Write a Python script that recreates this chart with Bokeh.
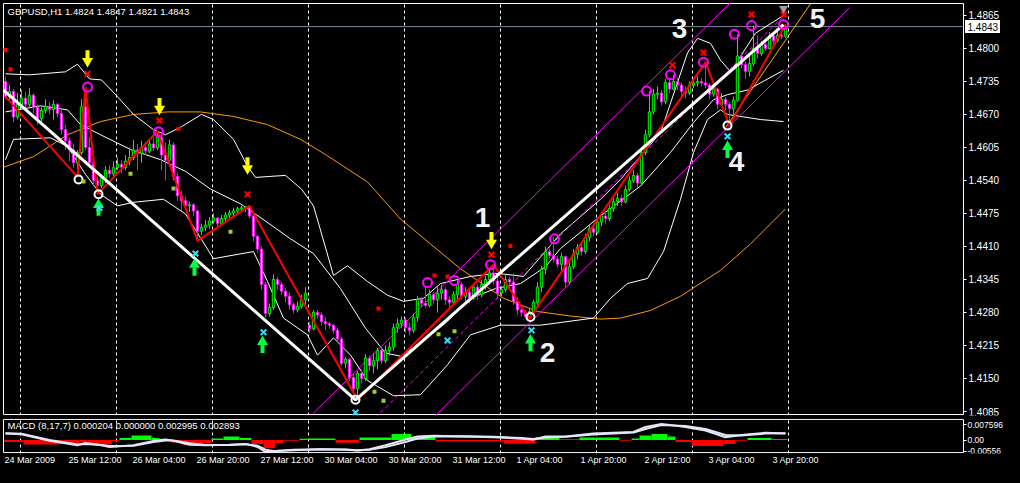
import numpy as np
from bokeh.plotting import figure
from bokeh.layouts import column
from bokeh.models import (Range1d, LinearAxis, FixedTicker, Grid, PrintfTickFormatter)
from bokeh.core.properties import value
from bokeh.embed import file_html
from bokeh.resources import INLINE

# ---------------- DATA (prices in pips above 1.4000) ----------------
bar_open = [
    735, 705, 715, 665, 690, 702, 690, 708, 684, 662,
    678, 686, 680, 690, 672, 640, 618, 600, 575, 595,
    685, 605, 575, 540, 530, 545, 560, 553, 565, 572,
    566, 578, 585, 600, 593, 605, 598, 612, 604, 625,
    590, 580, 610, 548, 510, 500, 490, 492, 480, 440,
    448, 452, 460, 466, 455, 465, 472, 476, 480, 484,
    486, 488, 470, 430, 405, 335, 278, 290, 345, 335,
    322, 312, 295, 285, 292, 305, 255, 248, 280, 275,
    262, 258, 255, 245, 228, 180, 188, 152, 130, 160,
    150, 190, 175, 185, 205, 185, 205, 212, 250, 258,
    265, 250, 245, 270, 305, 298, 294, 315, 305, 318,
    325, 305, 300, 315, 335, 312, 320, 308, 330, 315,
    335, 345, 358, 342, 318, 325, 345, 340, 302, 285,
    280, 272, 282, 300, 330, 365, 400, 392, 385, 375,
    390, 340, 370, 395, 408, 400, 428, 445, 438, 458,
    470, 465, 485, 498, 505, 498, 522, 540, 550, 535,
    595, 630, 675, 710, 712, 695, 733, 720, 735, 728,
    715, 712, 728, 732, 735, 732, 728, 710, 720, 690,
    700, 690, 682, 698, 785, 768, 755, 770, 800, 790,
    808, 800, 825, 815, 826, 824]
bar_high = [
    745, 728, 720, 712, 718, 715, 722, 712, 690, 684,
    700, 695, 698, 692, 680, 650, 625, 612, 600, 700,
    724, 625, 580, 548, 552, 568, 570, 578, 585, 580,
    590, 605, 620, 612, 618, 615, 620, 625, 637, 628,
    615, 620, 615, 555, 520, 508, 498, 495, 482, 455,
    462, 468, 475, 468, 472, 478, 482, 486, 488, 490,
    489, 490, 472, 432, 410, 340, 298, 355, 350, 340,
    328, 320, 300, 302, 315, 330, 262, 285, 285, 280,
    270, 262, 258, 250, 232, 192, 190, 160, 165, 168,
    198, 195, 200, 210, 210, 215, 222, 258, 268, 272,
    270, 260, 278, 312, 310, 330, 325, 320, 330, 335,
    330, 312, 322, 343, 340, 330, 325, 338, 335, 345,
    352, 365, 374, 350, 332, 355, 350, 357, 310, 292,
    285, 290, 305, 340, 372, 410, 405, 429, 392, 398,
    392, 378, 405, 415, 418, 435, 452, 455, 465, 478,
    480, 492, 505, 515, 512, 530, 548, 560, 555, 600,
    640, 716, 720, 725, 718, 740, 738, 748, 742, 732,
    725, 735, 740, 745, 742, 773, 732, 728, 722, 712,
    705, 695, 705, 828, 792, 775, 785, 845, 825, 815,
    812, 832, 830, 835, 830, 847]
bar_low = [
    700, 698, 655, 660, 685, 680, 685, 672, 650, 655,
    672, 670, 660, 665, 630, 600, 578, 565, 547, 590,
    600, 565, 530, 513, 525, 535, 545, 548, 560, 555,
    560, 570, 580, 560, 575, 590, 594, 598, 600, 560,
    540, 570, 540, 500, 480, 482, 478, 470, 421, 432,
    440, 445, 455, 450, 452, 460, 466, 470, 472, 478,
    478, 465, 420, 398, 325, 270, 272, 285, 325, 315,
    300, 285, 278, 280, 288, 295, 240, 245, 268, 255,
    245, 248, 238, 222, 175, 170, 145, 118, 108, 140,
    145, 165, 160, 168, 178, 180, 195, 205, 240, 250,
    240, 235, 240, 262, 290, 288, 290, 298, 280, 305,
    295, 285, 295, 305, 305, 300, 298, 305, 305, 310,
    325, 335, 335, 308, 312, 320, 325, 295, 275, 272,
    270, 268, 278, 295, 320, 355, 385, 378, 368, 360,
    330, 335, 365, 385, 392, 395, 420, 430, 435, 450,
    455, 460, 478, 490, 490, 495, 518, 535, 525, 530,
    590, 625, 670, 700, 688, 690, 712, 718, 718, 705,
    702, 708, 722, 725, 726, 722, 700, 705, 680, 688,
    678, 648, 670, 695, 760, 740, 745, 765, 780, 785,
    795, 798, 808, 812, 818, 821]
bar_close = [
    705, 715, 665, 690, 702, 690, 708, 684, 662, 678,
    686, 680, 690, 672, 640, 618, 600, 575, 595, 685,
    605, 575, 540, 530, 545, 560, 553, 565, 572, 566,
    578, 585, 600, 593, 605, 598, 612, 604, 625, 590,
    580, 610, 548, 510, 500, 490, 492, 480, 440, 448,
    452, 460, 466, 455, 465, 472, 476, 480, 484, 486,
    488, 470, 430, 405, 335, 278, 290, 345, 335, 322,
    312, 295, 285, 292, 305, 318, 248, 280, 275, 262,
    258, 255, 245, 228, 180, 188, 152, 130, 160, 150,
    190, 175, 185, 205, 185, 205, 212, 250, 258, 265,
    250, 245, 270, 305, 298, 294, 315, 305, 318, 325,
    305, 300, 315, 335, 312, 320, 308, 330, 315, 335,
    345, 358, 342, 318, 325, 345, 340, 302, 285, 280,
    272, 282, 300, 330, 365, 400, 392, 385, 375, 390,
    340, 370, 395, 408, 400, 428, 445, 438, 458, 470,
    465, 485, 498, 505, 498, 522, 540, 550, 535, 595,
    630, 675, 710, 712, 695, 733, 720, 735, 728, 715,
    712, 728, 732, 735, 732, 728, 710, 720, 690, 700,
    690, 682, 698, 785, 768, 755, 770, 800, 790, 808,
    800, 825, 815, 826, 824, 843]

price_ticks = [1.4085, 1.4150, 1.4215, 1.4280, 1.4345, 1.4410, 1.4475,
               1.4540, 1.4605, 1.4670, 1.4735, 1.4800, 1.4865]
last_price = 1.4843
last_price_text = "1.4843"
day_start_idx = [4, 28, 52, 76, 100, 124, 148, 172, 196]
date_idx = [0, 16, 32, 48, 64, 80, 96, 112, 128, 144, 160, 176, 192]
date_labels = ["24 Mar 2009", "25 Mar 12:00", "26 Mar 04:00", "26 Mar 20:00",
               "27 Mar 12:00", "30 Mar 04:00", "30 Mar 20:00", "31 Mar 12:00",
               "1 Apr 04:00", "1 Apr 20:00", "2 Apr 12:00", "3 Apr 04:00", "3 Apr 20:00"]

zigzag_idx = [0, 18, 20, 23, 38, 48, 61, 88, 122, 131, 175, 181, 195]
zigzag_pip = [705, 547, 724, 513, 637, 421, 490, 108, 374, 268, 773, 648, 847]
trend_idx = [-0.5, 87.5, 194.5]
trend_pip = [718, 108, 847]
chan_up_idx, chan_up_pip = [76.75, 182.5], [80, 900]
chan_mid_idx, chan_mid_pip = [92.5, 196], [73, 875]
chan_low_idx, chan_low_pip = [107, 211], [73, 880]
gold_idx, gold_pip = [180, 201.25], [644, 888]

orange_idx = [-0.5, 7, 15.5, 23.75, 32, 40.5, 48.75, 57, 65.5, 73.75, 80, 90.5, 98.75,
              106.25, 113.75, 124.5, 133, 141.25, 148.75, 153.75, 161.25, 168.75,
              178.75, 186.25, 195]
orange_pip = [566, 587, 630, 656, 670, 675, 675, 666, 650, 621, 591, 537, 464,
              415, 366, 308, 282, 273, 267, 269, 284, 312, 363, 415, 484]

bb_up_idx = [0, 6, 15, 18, 21, 24, 28, 32, 37, 40, 44, 49, 52, 57, 60.5, 62.5, 70, 74, 77, 82,
             85.5, 90.5, 95.5, 99.5, 104.5, 108.75, 116.25, 123, 129.5, 134.5, 138.75,
             148.75, 153.75, 163.75, 170.5, 173, 176.25, 178.75, 181.25, 187.5, 194.5]
bb_up_pip = [750, 748, 754, 769, 740, 738, 705, 670, 640, 630, 646, 670, 660, 621, 568, 546,
             550, 523, 490, 353, 372, 341, 314, 302, 308, 337, 351, 357, 351, 396, 435, 503,
             542, 634, 791, 820, 810, 777, 754, 830, 865]
bb_mid_idx = [0, 8.75, 15.5, 18.75, 23.75, 31.25, 38.75, 45, 51.25, 58.75, 65, 71.25, 77,
              83.75, 90, 95, 98.75, 103.75, 110, 116.25, 122.5, 128.75, 135, 138.75, 148.75,
              158.75, 166.25, 172, 177, 180.5, 185.5, 194.5]
bb_mid_pip = [675, 687, 679, 650, 630, 601, 581, 558, 523, 494, 460, 425, 396, 327, 249, 200,
              194, 220, 259, 308, 327, 337, 370, 406, 470, 529, 595, 654, 699, 709, 718, 757]
bb_low_idx = [0, 2, 11.25, 15.5, 20, 23.75, 28, 32, 39.5, 45, 52, 62, 65.5, 69.5, 75.5, 78, 82,
              86.25, 90.5, 97, 103.75, 110.5, 116.25, 123.75, 133.75, 147, 151.25, 155.5,
              160.5, 164.5, 168.75, 172, 175.5, 178.75, 180.5, 188.75, 194.5]
bb_low_pip = [581, 621, 624, 607, 552, 513, 490, 497, 503, 474, 386, 400, 341, 269, 236, 196,
              230, 196, 146, 116, 118, 177, 236, 255, 255, 269, 308, 337, 347, 400, 503, 595,
              660, 679, 670, 660, 656]

yellow_arrow_idx = [20.5, 38.5, 60.5, 121.5]
yellow_arrow_pip = [767, 673, 556, 409]
green_arrow_idx = [23.25, 47.25, 64.25, 131.25, 180.5]
green_arrow_pip = [500, 382, 230, 233, 614]
red_x_idx = [20.5, 38.5, 60.5, 121.5, 166.75, 174.5, 186.5, 194.5]
red_x_pip = [750, 658, 513, 394, 767, 792, 867, 867]
cyan_x_idx = [23.5, 47.5, 64.5, 87.5, 110.5, 131.5, 180.5]
cyan_x_pip = [486, 396, 241, 83, 225, 245, 627]
mag_circle_idx = [20.5, 38.25, 105.5, 112.25, 121.25, 137.25, 160.25, 166.25, 174.5, 182.25, 186.5, 194.5]
mag_circle_pip = [724, 636, 339, 343, 374, 425, 716, 748, 773, 828, 845, 847]
white_circle_idx = [18.25, 23.25, 87.5, 131.25, 180.5]
white_circle_pip = [542, 513, 108, 271, 648]
yg_square_idx = [19.5, 31.25, 42, 56.25, 92.25, 94.5, 108.25, 112.25]
yg_square_pip = [538, 553, 524, 439, 124, 106, 237, 243]
red_square_idx = [0, 1.25, 43.25, 93.25, 107.25, 110.5, 126.25]
red_square_pip = [797, 759, 642, 288, 353, 351, 411]
wave_text = ["1", "2", "3", "4", "5"]
wave_idx = [119.25, 135.5, 168.5, 182.75, 203]
wave_pip = [468, 202, 840, 578, 859]

# MACD (values in units of 0.0001)
macd_idx = [0, 4, 11, 18, 20, 24, 26, 32, 37, 40, 42, 46, 50, 56, 60, 63, 65, 67, 72, 79, 85, 88,
            91, 95, 100, 103, 107, 115, 122, 129, 132, 135, 140, 147, 157, 160, 164, 170, 175,
            180, 184, 190, 195]
macd_main = [32, 29, -4, -26, -15, -26, -34, -26, -4, 3, -4, -23, -26, -23, -19, -34, -59, -56,
             -48, -45, -48, -52, -45, -26, 3, 18, 21, 18, 14, 7, 3, 18, 18, 32, 40, 65, 80, 65,
             47, 14, 25, 36, 32]
macd_signal = [34, 31, 0, -22, -20, -24, -30, -28, -10, -2, -2, -16, -24, -24, -21, -28, -48,
               -54, -51, -46, -47, -50, -48, -35, -10, 8, 17, 19, 16, 10, 5, 12, 16, 28, 37, 55,
               74, 70, 55, 25, 22, 32, 33]
hist_start = [0, 5, 14, 19, 21, 27, 29, 32, 37, 39, 42, 45, 50, 52, 55, 59, 62, 65, 68, 70, 74,
              76, 83, 89, 97, 102, 108, 125, 133, 139, 144, 154, 157, 159, 162, 166, 168, 172,
              180, 183, 186, 192]
hist_end = [4, 13, 18, 20, 26, 28, 31, 36, 38, 41, 44, 49, 51, 54, 58, 61, 64, 67, 69, 73, 75,
            82, 88, 96, 101, 107, 124, 132, 138, 143, 153, 156, 158, 161, 165, 167, 171, 179,
            182, 185, 191, 195]
hist_val = [-10, -22, -20, -12, -22, -5, 10, 22, 10, -5, -12, -25, -15, 8, 18, 10, -20, -40, -15,
            -4, 6, 8, -14, 12, 30, 15, -6, -18, 14, 3, 12, -4, 8, 22, 30, 18, -10, -30, -20, -4,
            10, 4]
macd_ticks = [76, 0, -56]
macd_tick_text = {76: "0.007596", 0: "0.00", -56: "-0.00556"}
macd_title = "MACD  (8,17,7) 0.000204 0.000000 0.002995 0.002893"
chart_title = "GBPUSD,H1  1.4824 1.4847 1.4821 1.4843"


def P(v):
    return 1.4 + np.asarray(v, dtype=float) / 10000.0


# ---------------- LAYOUT ----------------
W = 1004
LB = 2                     # frame starts at page x = 2, chart box edge at x = 3
PXB = 4.0                  # pixels per bar
X0 = -0.75
X1 = X0 + (W - LB) / PXB   # the frame spans the full width (price scale drawn inside)
CH_L = -0.5                # chart box left edge (bar units)
CH_R = 239.5               # chart box right edge (bar units); price scale to its right
FONT = "Liberation Sans"

# main pane: chart box from y=3 to y=414, frame one pixel larger on each side
MAIN_TOP, MAIN_FRAME, MAIN_BOT = 2, 413, 3
BOX_Y0, BOX_Y1 = 1.40791, 1.48885
PPX = (BOX_Y1 - BOX_Y0) / (MAIN_FRAME - 2)
Y0, Y1 = BOX_Y0 - PPX, BOX_Y1 + PPX

p = figure(width=W, height=MAIN_TOP + MAIN_FRAME + MAIN_BOT,
           x_range=Range1d(X0, X1), y_range=Range1d(Y0, Y1),
           output_backend="svg", toolbar_location=None,
           x_axis_location=None, y_axis_location=None,
           background_fill_color="black", border_fill_color="black",
           outline_line_color=None,
           min_border_left=LB, min_border_top=MAIN_TOP, min_border_bottom=MAIN_BOT,
           min_border_right=0)
p.grid.visible = False

grid_ticks = [d - 0.25 for d in day_start_idx]
p.add_layout(Grid(dimension=0, ticker=FixedTicker(ticks=grid_ticks), grid_line_color="white",
                  grid_line_dash="3 3", grid_line_width=1, bounds=(BOX_Y0, BOX_Y1)))

# price scale drawn at the chart box's right edge
ya = LinearAxis(fixed_location=CH_R, ticker=FixedTicker(ticks=price_ticks),
                formatter=PrintfTickFormatter(format="%.4f"), bounds=(BOX_Y0, BOX_Y1),
                axis_line_color="white", major_tick_line_color="white", major_tick_out=3,
                major_tick_in=0, minor_tick_line_color=None, major_label_text_color="white",
                major_label_text_font=FONT, major_label_text_font_size="10px",
                major_label_standoff=2)
p.add_layout(ya, "right")

# chart box (top, bottom, left) and last-price line
p.line([CH_L, CH_R], [BOX_Y1, BOX_Y1], line_color="white", line_width=1)
p.line([CH_L, CH_R], [BOX_Y0, BOX_Y0], line_color="white", line_width=1)
p.line([CH_L, CH_L], [BOX_Y0, BOX_Y1], line_color="white", line_width=1)
p.line([CH_L, CH_R], [last_price, last_price], line_color="#7C8A99", line_width=1)

# indicator lines (under candles)
p.line(orange_idx, P(orange_pip), line_color="#FF9900", line_width=1)
p.line(bb_up_idx, P(bb_up_pip), line_color="white", line_width=1)
p.line(bb_mid_idx, P(bb_mid_pip), line_color="white", line_width=1)
p.line(bb_low_idx, P(bb_low_pip), line_color="white", line_width=1)
p.line(chan_up_idx, P(chan_up_pip), line_color="#FF00FF", line_width=1)
p.line(chan_low_idx, P(chan_low_pip), line_color="#FF00FF", line_width=1)
p.line(chan_mid_idx, P(chan_mid_pip), line_color="#FF00FF", line_width=1, line_dash="4 3")
p.line(gold_idx, P(gold_pip), line_color="#FFB000", line_width=1)

# candles
idx = np.arange(len(bar_close))
o, h, l, c = P(bar_open), P(bar_high), P(bar_low), P(bar_close)
up = c >= o
wick_col = ["#00FF00" if u else "#FF00FF" for u in up]
body_fill = ["#000000" if u else "#FFFFFF" for u in up]
p.segment(x0=idx, y0=h, x1=idx, y1=l, line_color=wick_col, line_width=1)
p.vbar(x=idx, width=0.6, top=np.maximum(o, c), bottom=np.minimum(o, c),
       fill_color=body_fill, line_color=wick_col, line_width=1)

# zigzag and trend
p.line(zigzag_idx, P(zigzag_pip), line_color="#FF0000", line_width=2)
p.line(trend_idx, P(trend_pip), line_color="white", line_width=3)

# markers
ytip = P(yellow_arrow_pip)
p.rect(x=yellow_arrow_idx, y=ytip + 11 * PPX, width=4, height=8, width_units="screen",
       height_units="screen", fill_color="#FFFF00", line_color=None)
p.scatter(yellow_arrow_idx, ytip + 4 * PPX, marker="inverted_triangle", size=11,
          fill_color="#FFFF00", line_color=None)
gtip = P(green_arrow_pip)
p.rect(x=green_arrow_idx, y=gtip - 11 * PPX, width=4, height=8, width_units="screen",
       height_units="screen", fill_color="#00FF40", line_color=None)
p.scatter(green_arrow_idx, gtip - 4 * PPX, marker="triangle", size=11,
          fill_color="#00FF40", line_color=None)
p.scatter(red_x_idx, P(red_x_pip), marker="x", size=8, line_color="#FF0000", line_width=2)
p.scatter(cyan_x_idx, P(cyan_x_pip), marker="x", size=8, line_color="#33DDFF", line_width=2)
p.scatter(mag_circle_idx, P(mag_circle_pip), marker="circle", size=9, fill_color=None,
          line_color="#FF00FF", line_width=2)
p.scatter(white_circle_idx, P(white_circle_pip), marker="circle", size=8, fill_color=None,
          line_color="white", line_width=2)
p.scatter(yg_square_idx, P(yg_square_pip), marker="square", size=4, fill_color="#9ACD32",
          line_color=None)
p.scatter(red_square_idx, P(red_square_pip), marker="square", size=4, fill_color="#FF0000",
          line_color=None)
p.scatter([194.5], [BOX_Y1 - 5 * PPX], marker="inverted_triangle", size=9, fill_color="#A0A0A0",
          line_color=None)

p.text(x=wave_idx, y=P(wave_pip), text=wave_text, text_font=value(FONT),
       text_font_style="bold", text_font_size="28px", text_color="#F2F2F2",
       text_align="center", text_baseline="middle")
p.text(x=[0.5], y=[BOX_Y1 - 8 * PPX], text=[chart_title], text_font=value(FONT),
       text_font_size="9.5px", text_color="white", text_align="left", text_baseline="middle")

# last price box on the price scale
p.rect(x=[CH_R + 19.0 / PXB], y=[last_price], width=35, height=13, width_units="screen",
       height_units="screen", fill_color="white", line_color=None)
p.text(x=[CH_R + 4.0 / PXB], y=[last_price], text=[last_price_text], text_font=value(FONT),
       text_font_size="10px", text_color="black", text_align="left", text_baseline="middle")

# ---------------- MACD ----------------
MACD_TOP, MACD_FRAME, MACD_BOT = 0, 38, 11
MBOX0, MBOX1 = -62.0, 102.0
MS = (MBOX1 - MBOX0) / (MACD_FRAME - 2)
MY0, MY1 = MBOX0 - MS, MBOX1 + MS
m = figure(width=W, height=MACD_TOP + MACD_FRAME + MACD_BOT, x_range=p.x_range,
           y_range=Range1d(MY0, MY1),
           output_backend="svg", toolbar_location=None,
           x_axis_location=None, y_axis_location=None,
           background_fill_color="black", border_fill_color="black",
           outline_line_color=None,
           min_border_left=LB, min_border_top=MACD_TOP, min_border_bottom=MACD_BOT,
           min_border_right=0)
m.grid.visible = False
m.add_layout(Grid(dimension=0, ticker=FixedTicker(ticks=grid_ticks), grid_line_color="white",
                  grid_line_dash="3 3", grid_line_width=1, bounds=(MBOX0, MBOX1)))

hv = np.asarray(hist_val, dtype=float)
m.quad(left=np.asarray(hist_start) - 0.5, right=np.asarray(hist_end) + 0.5,
       top=np.maximum(hv, 0), bottom=np.minimum(hv, 0),
       fill_color=["#00FF00" if v > 0 else "#FF0000" for v in hv], line_color=None)
m.line(macd_idx, macd_main, line_color="#E6E6FA", line_width=2)
m.line(macd_idx, macd_signal, line_color="#E6E6FA", line_width=2)

m.line([CH_L, CH_R], [MBOX1, MBOX1], line_color="white", line_width=1)
m.line([CH_L, CH_R], [MBOX0, MBOX0], line_color="white", line_width=1)
m.line([CH_L, CH_L], [MBOX0, MBOX1], line_color="white", line_width=1)

my = LinearAxis(fixed_location=CH_R, ticker=FixedTicker(ticks=macd_ticks),
                major_label_overrides=macd_tick_text, bounds=(MBOX0, MBOX1),
                axis_line_color="white", major_tick_line_color="white", major_tick_out=3,
                major_tick_in=0, minor_tick_line_color=None, major_label_text_color="white",
                major_label_text_font=FONT, major_label_text_font_size="8.5px",
                major_label_standoff=1)
m.add_layout(my, "right")

# date labels: MT4 writes them starting at the bar, so centre each label half its width
# to the right of its bar (widths estimated from Liberation Sans metrics, 9px)
CW = {" ": 0.278, ":": 0.278, "M": 0.833, "a": 0.556, "r": 0.333, "A": 0.667, "p": 0.556}
label_pos = []
for d, t in zip(date_idx, date_labels):
    wpx = sum(CW.get(ch, 0.556) for ch in t) * 9.0
    label_pos.append(d - 0.25 + wpx / 2.0 / PXB)
mx = LinearAxis(ticker=FixedTicker(ticks=label_pos),
                major_label_overrides={lp: t for lp, t in zip(label_pos, date_labels)},
                axis_line_color=None, major_tick_line_color=None, major_tick_out=0,
                major_tick_in=0, minor_tick_line_color=None, major_label_text_color="white",
                major_label_text_font=FONT, major_label_text_font_size="9px",
                major_label_standoff=1)
m.add_layout(mx, "below")

m.text(x=[0.5], y=[MBOX1 - 7 * MS], text=[macd_title],
       text_font=value(FONT), text_font_size="9.5px", text_color="white",
       text_align="left", text_baseline="middle")

layout = column(p, m, spacing=0)
try:
    from bokeh.models import GlobalInlineStyleSheet
    layout.stylesheets = [GlobalInlineStyleSheet(css="html, body { background-color: #000000; }")]
except Exception:
    pass

open("out.html", "w").write(file_html(layout, INLINE))
